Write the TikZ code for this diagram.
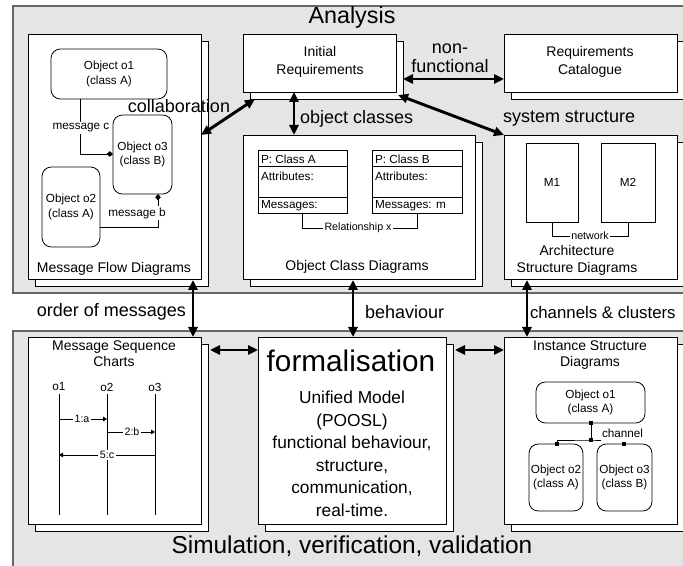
\documentclass[tikz,border=0pt]{standalone}
\usepackage{fontspec}
\setmainfont{Liberation Sans}
\usetikzlibrary{arrows.meta,calc,fit,shadows}
\tikzset{
  fbig/.style={font=\fontsize{17.5}{21}\selectfont},
  fhuge/.style={font=\fontsize{22.3}{25}\selectfont},
  flab/.style={font=\fontsize{13.5}{17}\selectfont},
  fmid/.style={font=\fontsize{10.5}{12.2}\selectfont},
  fsmall/.style={font=\fontsize{8.8}{11}\selectfont},
  ftiny/.style={font=\fontsize{8}{10}\selectfont},
  region/.style={draw=black!60, fill=black!10, line width=0.8pt, inner sep=0pt},
  card/.style={draw=black, fill=white, line width=0.7pt, inner sep=0pt,
    copy shadow={shadow xshift=5.25pt, shadow yshift=-5.25pt, fill=white, draw=black, line width=0.7pt}},
  obj/.style={draw=black, fill=white, line width=0.6pt, rounded corners=7pt, inner sep=0pt},
  plain/.style={draw=black, fill=white, line width=0.6pt, inner sep=0pt},
  thin/.style={draw=black, line width=0.6pt},
  big arrow/.style={line width=2.2pt, {Triangle[length=7.5pt,width=6.8pt]}-{Triangle[length=7.5pt,width=6.8pt]}},
  msg arrow/.style={thin, -{Triangle[length=3pt,width=3.5pt]}},
  bow/.style={thin, -{Triangle[length=2.4pt,width=4pt,reversed]Triangle[length=2.4pt,width=4pt]}},
  onwhite/.style={fill=white, inner sep=1.2pt},
  dot/.style={fill=black, minimum size=3pt, inner sep=0pt},
}
\begin{document}
\begin{tikzpicture}[x=0.75pt,y=-0.75pt, every node/.style={inner sep=0pt, outer sep=0pt}]
\useasboundingbox (0,0) rectangle (683,566);
\clip (0,0) rectangle (683,566);
\fill[white] (0,0) rectangle (683,566);

% regions
\node[region, fit={(13,6) (720,293)}] (analysis) {};
\node[region, fit={(13,331) (720,620)}] (simreg) {};
\node[fbig] (tAnalysis) at (352,17) {Analysis};
\node[fbig, font=\fontsize{18.3}{21}\selectfont] (tSim) at (352,546) {Simulation, verification, validation};

% cards
\node[card, fit={(28,34) (201,279)}] (mfd) {};
\node[card, fit={(243,34) (396,92)}] (ir) {};
\node[card, fit={(504,34) (677,92)}] (rc) {};
\node[card, fit={(243,135) (475,279)}] (ocd) {};
\node[card, fit={(504,135) (677,279)}] (asd) {};
\node[card, fit={(28,337) (201,524)}] (msc) {};
\node[card, fit={(258,337) (446,524)}] (form) {};
\node[card, fit={(504,337) (677,524)}] (isd) {};

% Message flow diagram
\node[obj, fit={(51,49) (167,99)}] (mo1) {};
\node[obj, fit={(113,115) (172,194)}] (mo3) {};
\node[obj, fit={(42,167) (100,247)}] (mo2) {};
\node[fsmall, align=center] (mo1t) at (mo1.center) {Object o1\\(class A)};
\node[fsmall, align=center] (mo3t) at (mo3.center) {Object o3\\(class B)};
\node[fsmall, align=center] (mo2t) at (mo2.center) {Object o2\\(class A)};
\draw[bow] ($(mo1.south west)+(29,0)$) |- ($(mo3.north west)+(0,39)$);
\draw[bow] ($(mo2.north east)+(0,60)$) -| ($(mo3.south west)+(45,0)$);
\node[fsmall, onwhite] (lmc) at (81,128) {message c};
\node[fsmall, onwhite] (lmb) at (137,213) {message b};
\node[fmid] (tmfd) at (114,269) {Message Flow Diagrams};

% Initial requirements / catalogue
\node[fmid, align=center, font=\fontsize{10.5}{13.5}\selectfont] (tir) at (320,62) {Initial\\Requirements};
\node[fmid, align=center, font=\fontsize{10.5}{13}\selectfont] (trc) at (590,62) {Requirements\\Catalogue};

% Object class diagrams
\node[plain, fit={(258,150) (347,213)}] (clsA) {};
\node[plain, fit={(372,150) (462,213)}] (clsB) {};
\draw[thin] ($(clsA.north west)+(0,16)$) -- ($(clsA.north east)+(0,16)$);
\draw[thin] ($(clsA.north west)+(0,47)$) -- ($(clsA.north east)+(0,47)$);
\draw[thin] ($(clsB.north west)+(0,16)$) -- ($(clsB.north east)+(0,16)$);
\draw[thin] ($(clsB.north west)+(0,47)$) -- ($(clsB.north east)+(0,47)$);
\node[fsmall, anchor=west] (cA1) at (261,159) {P: Class A};
\node[fsmall, anchor=west] (cA2) at (261,176) {Attributes:};
\node[fsmall, anchor=west] (cA3) at (261,206) {Messages:};
\node[fsmall, anchor=west] (cB1) at (375,159) {P: Class B};
\node[fsmall, anchor=west] (cB2) at (375,176) {Attributes:};
\node[fsmall, anchor=west] (cB3) at (375,206) {Messages: m};
\draw[thin] ($(clsA.south west)+(44,0)$) -- ++(0,15) -| ($(clsB.south west)+(45,0)$);
\node[ftiny, onwhite] (trel) at (358,228) {Relationship x};
\node[fmid] (tocd) at (357,267) {Object Class Diagrams};

% Architecture structure diagrams
\node[plain, fit={(526,143) (578,222)}] (m1) {};
\node[plain, fit={(601,143) (655,222)}] (m2) {};
\node[fsmall] (m1t) at (m1.center) {M1};
\node[fsmall] (m2t) at (m2.center) {M2};
\draw[thin] ($(m1.south west)+(26,0)$) -- ++(0,14) -| ($(m2.south west)+(27,0)$);
\node[ftiny, onwhite] (tnet) at (590,236) {network};
\node[fmid, align=center, font=\fontsize{10.5}{12.8}\selectfont] (tasd) at (577,260.5) {Architecture\\Structure Diagrams};

% Message sequence charts
\node[fmid, align=center] (tmsc) at (114,354) {Message Sequence\\Charts};
\node[fsmall] (l1) at (59,387) {o1};
\node[fsmall] (l2) at (107,387) {o2};
\node[fsmall] (l3) at (155,387) {o3};
\coordinate (l1b) at (59,515);
\coordinate (l2b) at (107,515);
\coordinate (l3b) at (155,515);
\draw[thin] ($(l1.south)+(0,3)$) -- (l1b);
\draw[thin] ($(l2.south)+(0,3)$) -- (l2b);
\draw[thin] ($(l3.south)+(0,3)$) -- (l3b);
\draw[msg arrow] (59,419) -- (107,419);
\draw[msg arrow] (107,432) -- (155,432);
\draw[msg arrow] (155,455) -- (59,455);
\node[ftiny, onwhite] (m1a) at (82,419) {1:a};
\node[ftiny, onwhite] (m2b) at (132,432) {2:b};
\node[ftiny, onwhite] (m5c) at (107,455) {5:c};

% Formalisation
\node[fhuge] (tform) at (351,361) {formalisation};
\node[flab, align=center, font=\fontsize{13}{16.9}\selectfont] (tum) at (352,454) {Unified Model\\(POOSL)\\functional behaviour,\\structure,\\communication,\\real-time.};

% Instance structure diagrams
\node[fmid, align=center] (tisd) at (590,355) {Instance Structure\\Diagrams};
\node[obj, fit={(536,382) (645,423)}] (io1) {};
\node[obj, fit={(529,444) (583,511)}] (io2) {};
\node[obj, fit={(597,444) (652,511)}] (io3) {};
\node[fsmall, align=center] (io1t) at (io1.center) {Object o1\\(class A)};
\node[fsmall, align=center] (io2t) at (io2.center) {Object o2\\(class A)};
\node[fsmall, align=center] (io3t) at (io3.center) {Object o3\\(class B)};
\node[dot] (d1) at ($(io1.south west)+(55,0)$) {};
\node[dot] (d2) at ($(io1.south west)+(55,17)$) {};
\node[dot] (d3) at ($(io2.north west)+(28,0)$) {};
\node[dot] (d4) at ($(io3.north west)+(27,0)$) {};
\coordinate (chend) at ($(d2.center)+(10,0)$);
\draw[thin] (d1.center) -- (d2.center);
\draw[thin] (chend) -- (d2.center) -| (d3.center);
\node[fsmall, anchor=west] (tch) at (602,433) {channel};

% big arrows
\draw[big arrow] ($(mfd.north east)+(0,101)$) -- ($(ir.south west)+(12,7)$);
\node[flab] (tcol) at (179,106) {collaboration};
\draw[big arrow] ($(ir.east)+(7,16)$) -- ($(rc.west)+(0,16)$);
\node[flab, align=center, font=\fontsize{13.5}{14.3}\selectfont] (tnf) at (450,58) {non-\\functional};
\draw[big arrow] ($(ir.south west)+(51,0)$) -- ($(ocd.north west)+(51,0)$);
\node[flab, anchor=west] (toc) at (300,119) {object classes};
\draw[big arrow] ($(ir.south east)+(2,3)$) -- (asd.north west);
\node[flab, anchor=west] (tss) at (503,119) {system structure};
\draw[big arrow] ($(mfd.south east)+(-8,1)$) -- ($(msc.north east)+(-8,0)$);
\node[flab, anchor=east] (tom) at (186,312) {order of messages};
\draw[big arrow] ($(ocd.south west)+(110,1)$) -- ($(form.north west)+(95,0)$);
\node[flab, anchor=west] (tbe) at (365,312) {behaviour};
\draw[big arrow] ($(asd.south west)+(23,1)$) -- ($(isd.north west)+(23,0)$);
\node[flab, anchor=west, font=\fontsize{12.6}{15}\selectfont] (tcc) at (530,312) {channels \& clusters};
\draw[big arrow] ($(msc.north east)+(9,13)$) -- ($(form.north west)+(0,13)$);
\draw[big arrow] ($(form.north east)+(9,13)$) -- ($(isd.north west)+(0,13)$);
\end{tikzpicture}
\end{document}
